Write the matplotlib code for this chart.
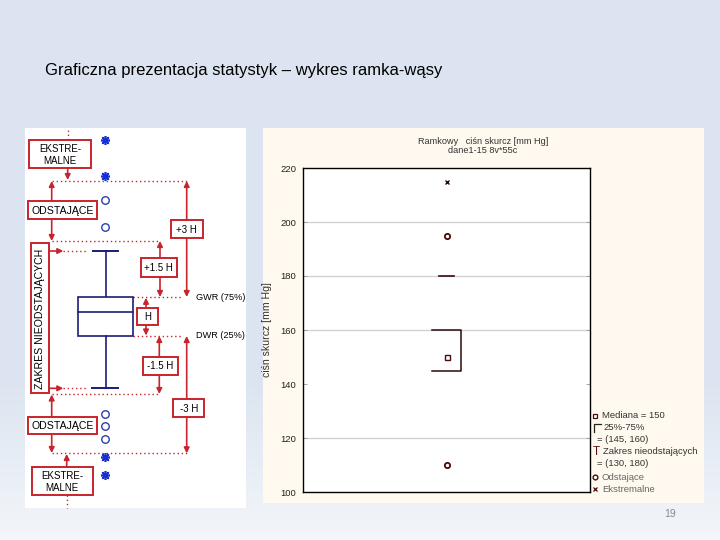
import numpy as np
import matplotlib
matplotlib.use("Agg")
import matplotlib.pyplot as plt
from matplotlib.patches import Rectangle
from matplotlib.colors import to_rgb

plt.rcParams['font.family'] = ['Liberation Sans', 'DejaVu Sans']

# ---------------- data (right chart) ----------------
median_value = 150
box_range = [145, 160]
whisker_range = [130, 180]
outlier_values = [195, 110]
extreme_values = [215]
y_ticks = [100, 120, 140, 160, 180, 200, 220]
grid_values = [120, 160, 180, 200]
legend_labels = ["Mediana = 150", "25%-75%", "= (145, 160)", "Zakres nieodstających",
                 "= (130, 180)", "Odstające", "Ekstremalne"]
slide_title = "Graficzna prezentacja statystyk – wykres ramka-wąsy"
chart_title = ["Ramkowy   ciśn skurcz [mm Hg]", "dane1-15 8v*55c"]
y_label = "ciśn skurcz [mm Hg]"

RED = '#c8242b'
NAVY = '#1c1c78'
BLUE = '#1a2fd0'
DARK = '#4a0a0a'

fig = plt.figure(figsize=(7.2, 5.4), dpi=100)

# background gradient
bg = fig.add_axes([0, 0, 1, 1], zorder=0)
top = np.array(to_rgb('#dbe4f0'))
bot = np.array(to_rgb('#f3f6fa'))
ys = np.linspace(0, 1, 540)
t = np.clip((ys - 0.70) / 0.30, 0, 1)
grad = top[None, :] * (1 - t[:, None]) + bot[None, :] * t[:, None]
img = np.repeat(grad[:, None, :], 4, axis=1)
bg.imshow(img, aspect='auto', extent=[0, 720, 540, 0])
bg.set_xlim(0, 720); bg.set_ylim(540, 0)
bg.axis('off')

# overlay in pixel coordinates
ov = fig.add_axes([0, 0, 1, 1], zorder=1)
ov.set_xlim(0, 720); ov.set_ylim(540, 0)
ov.axis('off')
ov.patch.set_alpha(0)

ov.text(45, 71, slide_title, fontsize=12, color='black', va='center', ha='left')

# panels
ov.add_patch(Rectangle((25, 128), 221, 380, facecolor='white', edgecolor='none', zorder=1))
ov.add_patch(Rectangle((263, 128), 441, 375, facecolor='#fff9ef', edgecolor='none', zorder=1))


def box(x0, y0, x1, y1, text, fs=7, rot=0):
    ov.add_patch(Rectangle((x0, y0), x1 - x0, y1 - y0, facecolor='white',
                           edgecolor=RED, lw=1.4, zorder=5))
    ov.text((x0 + x1) / 2, (y0 + y1) / 2 + 0.5, text, fontsize=fs, ha='center',
            va='center', rotation=rot, zorder=6, linespacing=1.25)


def arrow(x0, y0, x1, y1, both=False):
    style = '<|-|>' if both else '-|>'
    ov.annotate('', xy=(x1, y1), xytext=(x0, y0),
                arrowprops=dict(arrowstyle=style, color=RED, lw=1.2,
                                mutation_scale=8, shrinkA=0, shrinkB=0), zorder=4)


def dotted(x0, y0, x1, y1):
    ov.plot([x0, x1], [y0, y1], color=RED, lw=1.0, ls=(0, (1, 2)), zorder=3)


def star(x, y):
    ov.plot([x], [y], marker=(8, 2, 0), ms=6.5, mew=1.2, color=BLUE, zorder=6)


def circ(x, y):
    ov.plot([x], [y], marker='o', ms=5.4, mfc='white', mec='#2a3fb0', mew=1.0, zorder=6)


# --- schematic (top part)
dotted(67.7, 130, 67.7, 139)
box(29.3, 139.7, 90.7, 168.3, "EKSTRE-\nMALNE")
star(105, 140); star(105, 176)
arrow(67.7, 168.3, 67.7, 180)
dotted(51.7, 181, 186.7, 181)
arrow(51.7, 201, 51.7, 181)
box(28.3, 201, 97.3, 219.3, "ODSTAJĄCE", fs=7.6)
circ(105, 200); circ(105, 226.7)
arrow(51.7, 219.3, 51.7, 241)
dotted(51.7, 241, 160, 241)
arrow(186.7, 181, 186.7, 297, both=True)
box(170.7, 220, 202.7, 238.3, "+3 H", fs=7)
arrow(160, 241, 160, 297, both=True)
box(140.7, 258.3, 176.7, 277.3, "+1.5 H", fs=7)
dotted(133, 297.3, 183, 297.3)
ov.text(195.7, 297.3, "GWR (75%)", fontsize=6.6, va='center', ha='left', zorder=6)
box(137.3, 307.7, 157.7, 325, "H", fs=7)
arrow(146, 307.7, 146, 297.8)
arrow(146, 325, 146, 335.5)
box(30.7, 243.3, 49.3, 392.7, "ZAKRES NIEODSTAJĄCYCH", fs=7.6, rot=90)
arrow(49.3, 251, 63.3, 251)
dotted(63.3, 251, 88, 251)
arrow(49.3, 388.3, 63.3, 388.3)
dotted(63.3, 388.3, 88, 388.3)

# schematic box plot
ov.plot([92.7, 118.3], [251, 251], color=NAVY, lw=1.4, zorder=4)
ov.plot([105.7, 105.7], [251, 297.3], color=NAVY, lw=1.2, zorder=4)
ov.add_patch(Rectangle((78.3, 297.3), 54.4, 38.7, facecolor='white', edgecolor=NAVY, lw=1.2, zorder=4))
ov.plot([78.3, 132.7], [312.3, 312.3], color=NAVY, lw=1.2, zorder=4)
ov.plot([105.7, 105.7], [336, 388.3], color=NAVY, lw=1.2, zorder=4)
ov.plot([91.7, 118.3], [388.3, 388.3], color=NAVY, lw=1.4, zorder=4)

# --- schematic (bottom part)
dotted(133, 336, 183, 336)
ov.text(195.7, 336, "DWR (25%)", fontsize=6.6, va='center', ha='left', zorder=6)
arrow(159.3, 336, 159.3, 394, both=True)
box(142.7, 356.7, 177.7, 375, "-1.5 H", fs=7)
arrow(186.7, 336, 186.7, 453.3, both=True)
box(173.3, 399, 204.3, 417.3, "-3 H", fs=7)
dotted(51.7, 394, 160, 394)
arrow(51.7, 416.7, 51.7, 394.5)
box(28.3, 416.7, 97.3, 434.3, "ODSTAJĄCE", fs=7.6)
circ(105, 414); circ(105, 426); circ(105, 439.3)
arrow(51.7, 434.3, 51.7, 453)
dotted(51.7, 453.3, 186.7, 453.3)
star(105, 457.3); star(105, 475)
box(31.7, 467.3, 92.7, 495, "EKSTRE-\nMALNE")
arrow(66.7, 467.3, 66.7, 454)
dotted(66.7, 495, 66.7, 508)

# ---------------- right chart ----------------
ax = fig.add_axes([303 / 720, 48 / 540, 287 / 720, 324 / 540], zorder=2)
ax.set_facecolor('white')
ax.set_xlim(-1, 1)
ax.set_ylim(y_ticks[0], y_ticks[-1])
ax.set_yticks(y_ticks)
ax.set_xticks([])
for g in grid_values:
    ax.axhline(g, color='#cfcfcf', lw=0.9, zorder=1)
for s in ax.spines.values():
    s.set_color('black'); s.set_linewidth(1.0)
ax.tick_params(axis='y', direction='in', length=3, width=0.6, color='#999999',
               labelsize=6.8, labelcolor='#222222', pad=5, right=True)

hw = 0.1
ax.plot([-hw, hw, hw, -hw], [box_range[1], box_range[1], box_range[0], box_range[0]],
        color='#2a0a0a', lw=1.1, zorder=3)
ax.plot([-0.05, 0.05], [whisker_range[1], whisker_range[1]], color='#3a0a0a', lw=1.2, zorder=3)
ax.plot([0], [median_value], marker='s', ms=3.6, mfc='white', mec=DARK, mew=1.0, zorder=4)
ax.plot([0] * len(outlier_values), outlier_values, ls='none', marker='o', ms=3.8,
        mfc='white', mec=DARK, mew=1.3, zorder=4)
ax.plot([0] * len(extreme_values), extreme_values, ls='none', marker='x', ms=3.5,
        color='#2a0a0a', mew=1.0, zorder=4)

ax.set_ylabel(y_label, fontsize=7.6, color='#333333')
ax.yaxis.set_label_coords(-0.108, 0.5)

fig.text(483 / 720, 1 - 141 / 540, chart_title[0], fontsize=6.6, ha='center', va='center', color='#333333')
fig.text(483 / 720, 1 - 150.5 / 540, chart_title[1], fontsize=6.6, ha='center', va='center', color='#333333')

# legend (pixel coords)
leg_y = [416, 428, 439.5, 452, 463.5, 477, 489]
leg_col = ['#333333', '#333333', '#333333', '#333333', '#333333', '#666666', '#666666']
leg_x = [602, 603, 597, 603, 597, 602, 602]
for lab, yy, cc, xx in zip(legend_labels, leg_y, leg_col, leg_x):
    ov.text(xx, yy, lab, fontsize=6.8, color=cc, va='center', ha='left', zorder=6)
ov.plot([595], [leg_y[0]], marker='s', ms=3.2, mfc='white', mec=DARK, mew=0.9, zorder=6)
ov.plot([601, 593.5, 593.5], [leg_y[1] - 4, leg_y[1] - 4, leg_y[1] + 4], color='#222222', lw=0.9, zorder=6)
ov.text(596, leg_y[3], "T", fontsize=8.5, color='#5a1010', ha='center', va='center', zorder=6)
ov.plot([595], [leg_y[5]], marker='o', ms=3.4, mfc='white', mec=DARK, mew=1.0, zorder=6)
ov.plot([595], [leg_y[6]], marker='x', ms=3.2, color=DARK, mew=0.9, zorder=6)

ov.text(670, 514, "19", fontsize=7.5, color='#8a8a8a', ha='center', va='center')

fig.savefig('out.png', dpi=100)
